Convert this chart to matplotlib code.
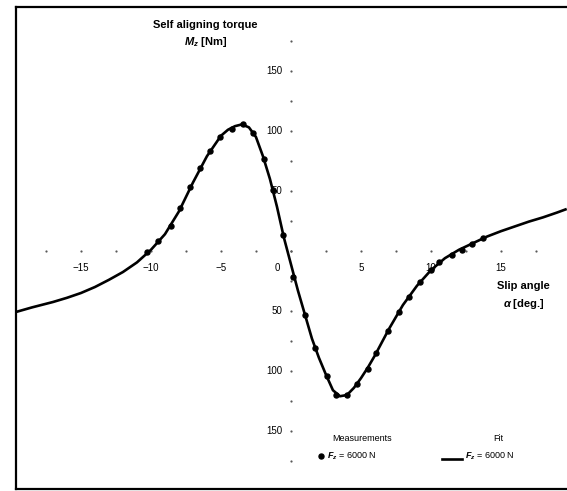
import matplotlib.pyplot as plt
import numpy as np

plt.rcParams['font.family'] = ['Liberation Sans', 'DejaVu Sans']
plt.rcParams['mathtext.fontset'] = 'custom'
plt.rcParams['mathtext.it'] = 'Liberation Sans:italic:bold'
plt.rcParams['mathtext.rm'] = 'Liberation Sans'

meas_alpha = [-10.3, -9.5, -8.6, -7.9, -7.2, -6.5, -5.8, -5.1, -4.2, -3.4, -2.7,
              -1.9, -1.3, -0.55, 0.15, 1.0, 1.7, 2.55, 3.2, 4.0, 4.7, 5.5, 6.1,
              6.9, 7.7, 8.4, 9.2, 10.0, 10.6, 11.5, 12.2, 12.9, 13.7]
meas_mz = [-1, 8, 21, 36, 53, 69, 83, 95, 102, 106, 98,
           77, 51, 13, -22, -53, -81, -104, -120, -120, -111, -98, -85,
           -67, -51, -38, -26, -16, -9, -3, 1, 6, 11]

# fitted curve
fit_alpha = [-19.7, -18.5, -17, -16, -15, -14, -13, -12, -11, -10, -9, -8, -7,
             -6, -5, -4.5, -4, -3.5, -3, -2.5, -2, -1.5, -1, -0.5, 0, 0.5, 1,
             1.5, 2, 2.5, 3, 3.5, 4, 4.5, 5, 5.5, 6, 7, 8, 9, 10, 11, 12, 13,
             14, 15, 16, 17, 18, 19, 19.7]
fit_mz = [-51, -47, -42.5, -39, -35, -30, -24, -17.5, -9.5, 1, 14, 33, 57,
          79, 96, 101, 104, 105.5, 103, 95, 79, 60, 37, 11, -11, -33, -53,
          -73, -89, -103, -116, -121, -120, -114, -106, -97, -87, -65, -45, -29, -16, -6, 1, 6.5,
          12, 16.5, 20.5, 24.5, 28, 32, 35]

x_ticks = [-15, -10, -5, 0, 5, 10, 15]
x_labels = ['\u221215', '\u221210', '\u22125', '0', '5', '10', '15']
y_ticks = [150, 100, 50, -50, -100, -150]
y_labels = ['150', '100', '50', '50', '100', '150']

fig = plt.figure(figsize=(5.67, 4.91), dpi=100)
ax = fig.add_axes([16 / 567, 2 / 491, 551 / 567, 482 / 491])
ax.set_xlim(-19.64, 19.72)
ax.set_ylim(-198.3, 203.3)
ax.set_xticks([])
ax.set_yticks([])
ax.spines['right'].set_visible(False)
for s in ['left', 'top', 'bottom']:
    ax.spines[s].set_linewidth(1.6)

# dotted axes through the origin
minor_x = np.arange(-17.5, 17.6, 2.5)
minor_y = np.arange(-175, 176, 25)
ax.plot(minor_x, np.zeros_like(minor_x), 'o', ms=1.6, color='0.35', mec='none')
ax.plot(np.zeros_like(minor_y), minor_y, 'o', ms=1.6, color='0.35', mec='none')

for x, lab in zip(x_ticks, x_labels):
    if x == 0:
        ax.text(-1.0, -14, lab, ha='center', va='center', fontsize=7)
    else:
        ax.text(x, -14, lab, ha='center', va='center', fontsize=7)
for y, lab in zip(y_ticks, y_labels):
    ax.text(-0.6, y, lab, ha='right', va='center', fontsize=7)

ax.plot(fit_alpha, fit_mz, color='black', lw=1.9, solid_capstyle='butt')
ax.plot(meas_alpha, meas_mz, 'o', ms=3.6, color='black')

ax.text(-6.1, 188, 'Self aligning torque', ha='center', va='center',
        fontsize=8, fontweight='bold')
ax.text(-6.1, 174, r'$M_z$ [Nm]', ha='center', va='center',
        fontsize=8, fontweight='bold')
ax.text(16.6, -29, 'Slip angle', ha='center', va='center',
        fontsize=8, fontweight='bold')
ax.text(16.6, -44, r'$\alpha$ [deg.]', ha='center', va='center',
        fontsize=8, fontweight='bold')

# legend
ax.text(5.1, -156, 'Measurements', ha='center', va='center', fontsize=6.5)
ax.plot([2.15], [-171], 'o', ms=3.6, color='black')
ax.text(2.6, -171, r'$F_z$ = 6000 N', ha='left', va='center', fontsize=6.5)
ax.text(14.8, -156, 'Fit', ha='center', va='center', fontsize=6.5)
ax.plot([10.8, 12.2], [-173, -173], color='black', lw=1.9)
ax.text(12.4, -171, r'$F_z$ = 6000 N', ha='left', va='center', fontsize=6.5)

fig.savefig('out.png', dpi=100)
